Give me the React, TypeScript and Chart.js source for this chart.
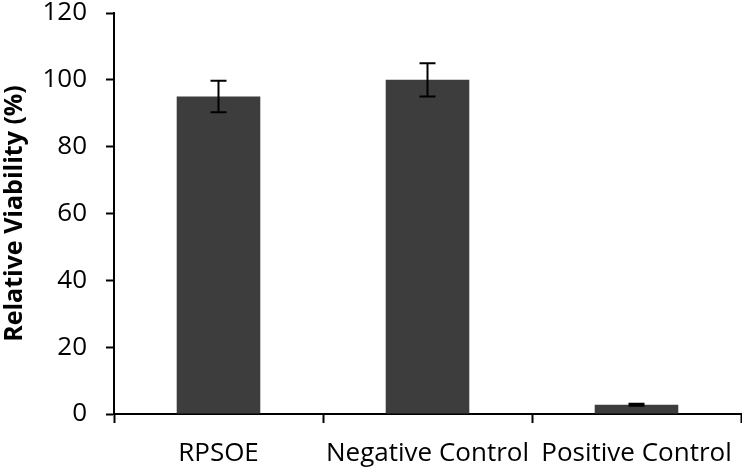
import React, { useEffect, useRef } from "react";
import { Chart, registerables } from "chart.js";

Chart.register(...registerables);

const categories = ["RPSOE", "Negative Control", "Positive Control"];
const viability = [95, 100, 2.8];
const errors = [4.7, 5, 0.3];
const yTicks = [0, 20, 40, 60, 80, 100, 120];

const FONT = "'Open Sans', 'Noto Sans', sans-serif";

const errorBarPlugin = {
  id: "errorBars",
  afterDatasetsDraw(chart: any) {
    const ctx = chart.ctx;
    const meta = chart.getDatasetMeta(0);
    const yScale = chart.scales.y;
    ctx.save();
    ctx.strokeStyle = "#000000";
    ctx.lineWidth = 2;
    meta.data.forEach((bar: any, i: number) => {
      const x = bar.x;
      const yTop = yScale.getPixelForValue(viability[i] + errors[i]);
      const yBot = yScale.getPixelForValue(viability[i] - errors[i]);
      const cap = 8;
      ctx.beginPath();
      ctx.moveTo(x, yTop);
      ctx.lineTo(x, yBot);
      ctx.moveTo(x - cap, yTop);
      ctx.lineTo(x + cap, yTop);
      ctx.moveTo(x - cap, yBot);
      ctx.lineTo(x + cap, yBot);
      ctx.stroke();
    });
    ctx.restore();
  },
};

export default function App() {
  const ref = useRef<HTMLCanvasElement | null>(null);
  useEffect(() => {
    if (!ref.current) return;
    const chart = new Chart(ref.current, {
      type: "bar",
      data: {
        labels: categories,
        datasets: [
          {
            data: viability,
            backgroundColor: "#3d3d3d",
            borderWidth: 0,
            barPercentage: 0.4,
            categoryPercentage: 1,
          },
        ],
      },
      options: {
        responsive: false,
        animation: false,
        layout: { padding: { top: 13, right: 1, left: 0, bottom: 0 } },
        plugins: {
          legend: { display: false },
          tooltip: { enabled: false },
        },
        scales: {
          x: {
            grid: {
              display: true,
              drawOnChartArea: false,
              drawTicks: true,
              tickLength: 9,
              tickWidth: 2,
              color: "#000000",
              offset: true,
            },
            border: { display: true, color: "#000000", width: 2 },
            ticks: {
              color: "#000000",
              font: { family: FONT, size: 26 },
              padding: 15,
              maxRotation: 0,
              autoSkip: false,
            },
            afterFit(scale: any) {
              scale.height = 56;
              scale.paddingLeft = 0;
              scale.paddingRight = 0;
            },
          },
          y: {
            min: 0,
            max: 120,
            afterBuildTicks(scale: any) {
              scale.ticks = yTicks.map((v) => ({ value: v }));
            },
            grid: {
              display: true,
              drawOnChartArea: false,
              drawTicks: true,
              tickLength: 8,
              tickWidth: 2,
              color: "#000000",
            },
            border: { display: true, color: "#000000", width: 2 },
            ticks: {
              color: "#000000",
              font: { family: FONT, size: 26 },
              padding: 19,
            },
            title: {
              display: true,
              text: "Relative Viability (%)",
              color: "#000000",
              font: { family: FONT, size: 25, weight: "bold" },
              padding: { top: 0, bottom: 0 },
            },
            afterFit(scale: any) {
              scale.width = 114;
              scale.paddingTop = 0;
              scale.paddingBottom = 0;
            },
          },
        },
      },
      plugins: [errorBarPlugin],
    });
    return () => chart.destroy();
  }, []);
  return (
    <div style={{ position: "absolute", left: 0, top: 0, width: 742, height: 470, background: "#ffffff" }}>
      <canvas ref={ref} width={742} height={470} style={{ width: 742, height: 470 }} />
    </div>
  );
}
